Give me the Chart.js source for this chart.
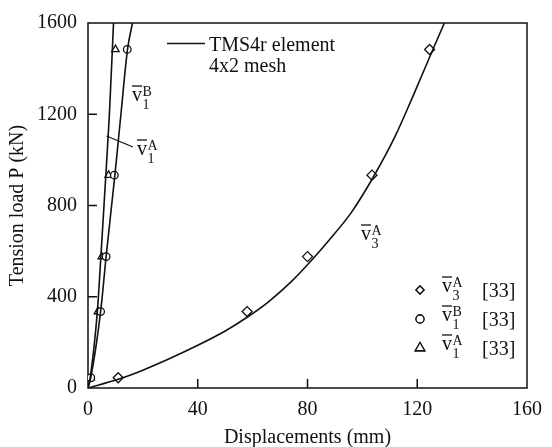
<!DOCTYPE html>
<html>
<head>
<meta charset="utf-8">
<script src="https://cdn.jsdelivr.net/npm/chart.js@4.4.0/dist/chart.umd.min.js"></script>
<style>
html, body { margin: 0; padding: 0; background: #fff; }
</style>
</head>
<body>
<canvas id="grafica" width="552" height="447"></canvas>
<script>
// TMS4r element, 4x2 mesh (solid curves)
const v3A_disp = [0, 11, 20, 30, 40, 50, 58, 66, 74, 80, 88, 96, 104, 112, 119, 125.7, 129.9];
const v3A_load = [0, 38, 78, 130, 187, 250, 310, 380, 465, 540, 650, 770, 925, 1105, 1295, 1484, 1600];
const v1B_disp = [0, 1, 4.6, 6.6, 9.8, 12.0, 14.4, 16.2];
const v1B_load = [0, 45, 335, 576, 933, 1200, 1484, 1600];
const v1A_disp = [0, 0.8, 3.4, 4.7, 6.5, 7.8, 9.3];
const v1A_load = [0, 45, 335, 576, 933, 1200, 1600];

// reference [33] (markers)
const ref_load = [45, 335, 576, 933, 1484];
const ref_v3A = [11, 58, 80, 103.5, 124.5];
const ref_v1B = [1, 4.6, 6.6, 9.6, 14.3];
const ref_v1A = [1, 3.6, 5, 7.5, 10];

const xTicks = [0, 40, 80, 120, 160];
const yTicks = [0, 400, 800, 1200, 1600];

const FONT = "'Liberation Serif', 'Times New Roman', serif";

function puntos(xs, ys) {
    return xs.map((x, i) => ({ x: x, y: ys[i] }));
}

function curva(xs, ys) {
    return {
        data: puntos(xs, ys),
        showLine: true,
        borderColor: "#111",
        borderWidth: 1.6,
        pointRadius: 0,
        cubicInterpolationMode: "monotone",
        fill: false,
    };
}

function marcas(xs, ys, estilo, radio) {
    return {
        data: puntos(xs, ys),
        showLine: false,
        pointStyle: estilo,
        pointRadius: radio,
        pointBorderColor: "#111",
        pointBackgroundColor: "#fff",
        pointBorderWidth: 1.3,
    };
}

// v with overbar, superscript and subscript
function vBarra(ctx, x, base, sup, sub) {
    ctx.font = "20px " + FONT;
    ctx.fillText("v", x, base);
    const w = ctx.measureText("v").width;
    ctx.beginPath();
    ctx.moveTo(x, base - 15);
    ctx.lineTo(x + w, base - 15);
    ctx.lineWidth = 1.3;
    ctx.stroke();
    ctx.font = "14px " + FONT;
    ctx.fillText(sup, x + w + 0.5, base - 5);
    ctx.fillText(sub, x + w + 0.5, base + 8);
}

const decoracion = {
    id: "decoracion",
    beforeDatasetsDraw(chart) {
        const ctx = chart.ctx;
        const a = chart.chartArea;
        const sx = chart.scales.x;
        const sy = chart.scales.y;
        ctx.save();
        ctx.strokeStyle = "#111";
        ctx.lineWidth = 1.5;
        ctx.strokeRect(a.left, a.top, a.right - a.left, a.bottom - a.top);
        ctx.beginPath();
        xTicks.slice(1, -1).forEach((v) => {
            const px = sx.getPixelForValue(v);
            ctx.moveTo(px, a.bottom);
            ctx.lineTo(px, a.bottom - 9);
        });
        yTicks.slice(1, -1).forEach((v) => {
            const py = sy.getPixelForValue(v);
            ctx.moveTo(a.left, py);
            ctx.lineTo(a.left + 9, py);
        });
        ctx.stroke();
        ctx.restore();
    },
    afterDraw(chart) {
        const ctx = chart.ctx;
        ctx.save();
        ctx.fillStyle = "#111";
        ctx.strokeStyle = "#111";
        ctx.textBaseline = "alphabetic";

        // line legend
        ctx.beginPath();
        ctx.moveTo(167, 43.5);
        ctx.lineTo(205, 43.5);
        ctx.lineWidth = 1.3;
        ctx.stroke();
        ctx.font = "20px " + FONT;
        ctx.fillText("TMS4r element", 209, 51);
        ctx.fillText("4x2 mesh", 209, 72);

        // curve labels
        vBarra(ctx, 132, 101, "B", "1");
        vBarra(ctx, 137, 155, "A", "1");
        ctx.beginPath();
        ctx.moveTo(106.5, 136);
        ctx.lineTo(133, 147);
        ctx.lineWidth = 1.2;
        ctx.stroke();
        vBarra(ctx, 361, 240, "A", "3");

        // marker legend
        const filas = [
            { y: 290, estilo: "rectRot", r: 4, sup: "A", sub: "3" },
            { y: 319, estilo: "circle", r: 4, sup: "B", sub: "1" },
            { y: 348, estilo: "triangle", r: 5.5, sup: "A", sub: "1" },
        ];
        filas.forEach((f) => {
            ctx.lineWidth = 1.3;
            ctx.fillStyle = "#fff";
            Chart.helpers.drawPoint(ctx, { pointStyle: f.estilo, radius: f.r, borderWidth: 1.3 }, 420, f.y);
            ctx.fill();
            ctx.stroke();
            ctx.fillStyle = "#111";
            vBarra(ctx, 442, f.y + 2, f.sup, f.sub);
            ctx.font = "20px " + FONT;
            ctx.fillText("[33]", 482, f.y + 7);
        });
        ctx.restore();
    },
};

const ctx = document.getElementById("grafica").getContext("2d");

new Chart(ctx, {
    type: "scatter",
    data: {
        datasets: [
            curva(v3A_disp, v3A_load),
            curva(v1B_disp, v1B_load),
            curva(v1A_disp, v1A_load),
            marcas(ref_v3A, ref_load, "rectRot", 5),
            marcas(ref_v1B, ref_load, "circle", 3.8),
            marcas(ref_v1A, ref_load, "triangle", 4.3),
        ],
    },
    options: {
        responsive: false,
        animation: false,
        devicePixelRatio: 1,
        layout: { padding: { top: 16, right: 16, left: 0, bottom: 0 } },
        plugins: {
            legend: { display: false },
            tooltip: { enabled: false },
        },
        scales: {
            x: {
                type: "linear",
                min: 0,
                max: 160,
                afterBuildTicks: (s) => { s.ticks = xTicks.map((v) => ({ value: v })); },
                ticks: {
                    color: "#111",
                    font: { family: FONT, size: 20 },
                    padding: 10,
                    maxRotation: 0,
                    callback: (v) => String(v),
                },
                grid: { display: false, drawTicks: false },
                border: { display: false },
                title: {
                    display: true,
                    text: "Displacements (mm)",
                    color: "#111",
                    font: { family: FONT, size: 20 },
                    padding: { top: 0, bottom: -3 },
                },
                afterFit: (s) => { s.height = 59; },
            },
            y: {
                type: "linear",
                min: 0,
                max: 1600,
                afterBuildTicks: (s) => { s.ticks = yTicks.map((v) => ({ value: v })); },
                ticks: {
                    color: "#111",
                    font: { family: FONT, size: 20 },
                    padding: 11,
                    callback: (v) => String(v),
                },
                grid: { display: false, drawTicks: false },
                border: { display: false },
                title: {
                    display: true,
                    text: "Tension load P (kN)",
                    color: "#111",
                    font: { family: FONT, size: 20 },
                    padding: 6,
                },
                afterFit: (s) => { s.width = 88; },
            },
        },
    },
    plugins: [decoracion],
});
</script>
</body>
</html>
